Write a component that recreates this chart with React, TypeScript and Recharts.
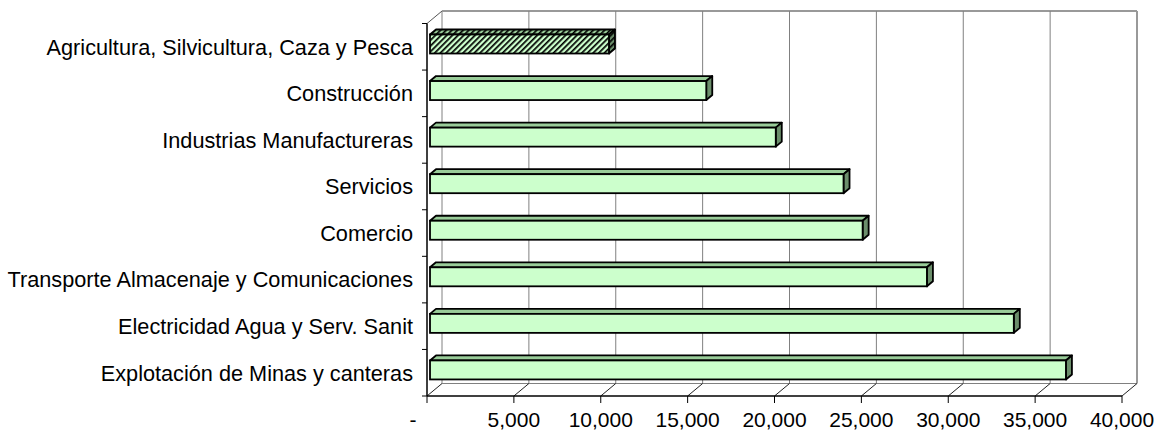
import { BarChart, Bar, XAxis, YAxis, CartesianGrid } from "recharts";

// categories, top to bottom
const categories = [
  "Agricultura, Silvicultura, Caza y Pesca",
  "Construcción",
  "Industrias Manufactureras",
  "Servicios",
  "Comercio",
  "Transporte Almacenaje y Comunicaciones",
  "Electricidad Agua y Serv. Sanit",
  "Explotación de Minas y canteras",
];

const values = [10300, 15900, 19900, 23800, 24900, 28600, 33600, 36600];

const xTicks = [0, 5000, 10000, 15000, 20000, 25000, 30000, 35000, 40000];

const data = categories.map((name, i) => ({ name, value: values[i] }));

// depth of the 3D walls and of the bars
const WALL_DX = 15;
const WALL_DY = -12.5;
const BAR_DX = 6;
const BAR_DY = -5;
const BAR_SHIFT_X = 3;
const BAR_SHIFT_Y = -3;

const FONT = "'Liberation Sans', Arial, sans-serif";

const WallLine = (p: any) => {
  const { x1, y1, y2, index, x, width } = p;
  const bx = x1 + WALL_DX;
  const top = y1 + WALL_DY;
  const bottom = y2 + WALL_DY;
  const right = x + width;
  const last = Math.abs(x1 - right) < 0.5;
  return (
    <g key={`wall-${index}`}>
      <line x1={bx} y1={top} x2={bx} y2={bottom} stroke={last ? "#999" : "#808080"} strokeWidth={last ? 2 : 1} />
      <line x1={x1} y1={y2} x2={bx} y2={bottom} stroke="#222" strokeWidth={1} />
      {index === 0 && (
        <>
          <line x1={x1} y1={y1} x2={bx} y2={top} stroke="#555" />
          <line x1={bx} y1={top} x2={right + WALL_DX} y2={top} stroke="#999" strokeWidth={2} />
          <line x1={bx} y1={bottom} x2={right + WALL_DX} y2={bottom} stroke="#808080" />
        </>
      )}
    </g>
  );
};

const Bar3D = (p: any) => {
  const { x, y, width, height, payload, index } = p;
  if (!width || width <= 0) return null;
  const fx = x + BAR_SHIFT_X;
  const fy = y + BAR_SHIFT_Y;
  const hatched = payload?.name === categories[0] || index === 0;
  const topPts = `${fx},${fy} ${fx + BAR_DX},${fy + BAR_DY} ${fx + width + BAR_DX},${fy + BAR_DY} ${fx + width},${fy}`;
  const sidePts = `${fx + width},${fy} ${fx + width + BAR_DX},${fy + BAR_DY} ${fx + width + BAR_DX},${fy + height + BAR_DY} ${fx + width},${fy + height}`;
  return (
    <g>
      {hatched && (
        <defs>
          <pattern id="hatchFront" patternUnits="userSpaceOnUse" width={4} height={4} patternTransform="rotate(45)">
            <rect width={4} height={4} fill="#CCFFCC" />
            <rect width={1.7} height={4} fill="#000" />
          </pattern>
          <pattern id="hatchTop" patternUnits="userSpaceOnUse" width={4} height={4} patternTransform="rotate(45)">
            <rect width={4} height={4} fill="#99CC99" />
            <rect width={1.7} height={4} fill="#000" />
          </pattern>
          <pattern id="hatchSide" patternUnits="userSpaceOnUse" width={4} height={4} patternTransform="rotate(45)">
            <rect width={4} height={4} fill="#6B8E6B" />
            <rect width={1.7} height={4} fill="#000" />
          </pattern>
        </defs>
      )}
      <polygon points={topPts} fill={hatched ? "url(#hatchTop)" : "#99CC99"} stroke="#000" strokeWidth={1.8} strokeLinejoin="round" />
      <polygon points={sidePts} fill={hatched ? "url(#hatchSide)" : "#6B8E6B"} stroke="#000" strokeWidth={1.8} strokeLinejoin="round" />
      <rect x={fx} y={fy} width={width} height={height} fill={hatched ? "url(#hatchFront)" : "#CCFFCC"} stroke="#000" strokeWidth={1.8} />
    </g>
  );
};

const CategoryTick = (p: any) => {
  const { x, y, payload, index, visibleTicksCount, height } = p;
  const axisX = x + 14;
  const half = payload?.offset || (height && visibleTicksCount ? height / visibleTicksCount / 2 : 23);
  return (
    <g>
      <line x1={axisX - 5} y1={y - half} x2={axisX} y2={y - half} stroke="#000" />
      {index === categories.length - 1 && (
        <line x1={axisX - 5} y1={y + half} x2={axisX} y2={y + half} stroke="#000" />
      )}
      <text x={x} y={y} dy="0.36em" textAnchor="end" fontSize={21.7} fontFamily={FONT} fill="#000">
        {payload.value}
      </text>
    </g>
  );
};

const ValueTick = (p: any) => {
  const { x, y, payload } = p;
  const v = payload.value as number;
  const label = v === 0 ? "-" : v.toLocaleString("en-US");
  return (
    <text x={v === 0 ? x - 14 : x} y={y + 23} textAnchor="middle" fontSize={21} fontFamily={FONT} fill="#000">
      {label}
    </text>
  );
};

export default function App() {
  return (
    <div style={{ position: "absolute", left: 0, top: 0, background: "#fff" }}>
      <BarChart
        width={1159}
        height={433}
        data={data}
        layout="vertical"
        margin={{ top: 23.5, right: 37, bottom: 0, left: 0 }}
        barSize={19}
      >
        <CartesianGrid horizontal={false} vertical={WallLine} />
        <XAxis
          type="number"
          domain={[0, 40000]}
          ticks={xTicks}
          interval={0}
          height={37}
          tickSize={7}
          tickMargin={1}
          axisLine={{ stroke: "#000", strokeWidth: 1.5 }}
          tickLine={{ stroke: "#000" }}
          tick={<ValueTick />}
        />
        <YAxis
          type="category"
          dataKey="name"
          width={427}
          interval={0}
          tickSize={5}
          tickMargin={9}
          axisLine={{ stroke: "#000", strokeWidth: 1.5 }}
          tickLine={{ stroke: "none" }}
          tick={<CategoryTick />}
        />
        <Bar dataKey="value" shape={<Bar3D />} isAnimationActive={false} />
      </BarChart>
    </div>
  );
}
